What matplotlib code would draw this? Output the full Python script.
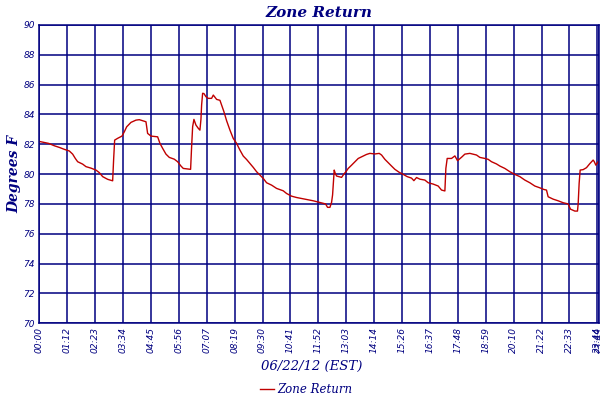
import numpy as np
import matplotlib
matplotlib.use("Agg")
import matplotlib.pyplot as plt

# minutes after midnight, degrees F
minutes = [0, 23.9, 38.4, 51.1, 63.9, 76.6, 85.1, 91.9, 97.9, 110.6, 119.1, 131.9,
           144.6, 153.1, 161.7, 174.4, 187.2, 189.7, 192.3, 200, 211, 217, 222.9,
           234, 246.7, 255.2, 272.2, 276.4, 285, 302, 307.9, 314.7, 323.2, 331.7,
           344.5, 353, 361.5, 367.4, 386.1, 388.7, 391.3, 394.6, 399.7, 405.7,
           409.9, 412.5, 414.2, 416.8, 420.2, 425.3, 431.2, 439.7, 444, 452.5,
           461, 465.2, 471.2, 478, 486.5, 495, 503.5, 512, 520.5, 529, 537.5,
           546, 554.5, 563, 571.5, 580, 592.8, 605.5, 622.5, 631, 643.8, 656.6,
           677.8, 699, 720.3, 730.5, 735.6, 741.6, 745.8, 748.4, 752.6, 755.2,
           758.6, 771.4, 777.3, 782.4, 788.3, 796.9, 805.4, 813.9, 826.6, 835.1,
           843.6, 856.4, 867.4, 873.4, 881.9, 890.4, 898.9, 907.4, 918.4, 928.7,
           938.9, 949.9, 955.9, 962.7, 971.2, 983.9, 992.4, 1005.2, 1017.9,
           1026.4, 1035, 1037.5, 1040.9, 1051.9, 1060.5, 1067.3, 1077.5, 1086,
           1098.7, 1115.7, 1124.2, 1137, 1145.5, 1154, 1166.8, 1175.3, 1188,
           1200.8, 1213.5, 1226.3, 1239, 1251.8, 1264.5, 1277.3, 1287.5, 1294.3,
           1298.5, 1311.3, 1324, 1336.8, 1349.6, 1355.5, 1366.6, 1373.4, 1375.1,
           1377.6, 1380.2, 1387.8, 1396.3, 1404.8, 1413.3, 1415.9, 1420.2, 1426.1,
           1429]
temps = [82.19, 82.06, 81.9, 81.79, 81.66, 81.55, 81.34, 81.05, 80.83, 80.67, 80.5,
         80.4, 80.27, 80.1, 79.83, 79.65, 79.55, 81.0, 82.28, 82.4, 82.55, 82.84,
         83.17, 83.47, 83.62, 83.65, 83.51, 82.73, 82.55, 82.5, 82.06, 81.73,
         81.34, 81.12, 81.0, 80.83, 80.54, 80.38, 80.32, 81.84, 83.18, 83.67,
         83.29, 83.07, 82.95, 83.67, 84.63, 85.42, 85.4, 85.19, 85.08, 85.08,
         85.3, 85.01, 84.95, 84.63, 84.18, 83.58, 82.95, 82.39, 82.06, 81.61,
         81.21, 80.98, 80.72, 80.45, 80.16, 79.93, 79.71, 79.42, 79.26, 79.04,
         78.88, 78.7, 78.52, 78.43, 78.32, 78.21, 78.07, 78.0, 77.77, 77.77,
         78.1, 78.6, 80.27, 80.05, 79.87, 79.78, 80.0, 80.16, 80.38, 80.6, 80.83,
         81.05, 81.21, 81.32, 81.39, 81.35, 81.39, 81.28, 80.99, 80.76, 80.54,
         80.32, 80.12, 79.98, 79.83, 79.73, 79.56, 79.77, 79.66, 79.6, 79.42,
         79.33, 79.2, 78.93, 78.87, 80.38, 81.05, 81.05, 81.22, 80.9, 81.13,
         81.34, 81.39, 81.28, 81.12, 81.05, 80.99, 80.83, 80.68, 80.54, 80.38,
         80.16, 79.98, 79.83, 79.6, 79.42, 79.2, 79.08, 78.97, 78.93, 78.48,
         78.32, 78.21, 78.08, 78.0, 77.65, 77.52, 77.52, 78.0, 79.38, 80.27,
         80.3, 80.43, 80.7, 80.94, 80.85, 80.6, 80.83, 80.83]

tick_labels = ["00:00", "01:12", "02:23", "03:34", "04:45", "05:56", "07:07",
               "08:19", "09:30", "10:41", "11:52", "13:03", "14:14", "15:26",
               "16:37", "17:48", "18:59", "20:10", "21:22", "22:33", "23:44", "23:49"]
tick_pos = [71.2 * i for i in range(21)] + [1429]
y_ticks = list(range(70, 91, 2))

navy = "#000080"
serif = "DejaVu Serif"

fig = plt.figure(figsize=(6, 4), dpi=100)
ax = fig.add_axes([0.0655, 0.192, 0.9333, 0.7455])

ax.plot(minutes, temps, color="#c00000", lw=1.0, label="Zone Return")

ax.set_xlim(0, 1429)
ax.set_ylim(70, 90)
ax.set_xticks(tick_pos)
ax.set_xticklabels(tick_labels, rotation=90, fontsize=6.5, style="italic", color=navy)
ax.set_yticks(y_ticks)
ax.set_yticklabels([str(v) for v in y_ticks], fontsize=6.5, style="italic", color=navy)
ax.tick_params(length=0, pad=3)
ax.grid(True, color=navy, lw=1.1)
ax.set_axisbelow(True)
for s in ax.spines.values():
    s.set_color(navy)
    s.set_linewidth(1.1)

ax.set_title("Zone Return", fontsize=11, fontstyle="italic", fontweight="bold",
             family=serif, color=navy, pad=6)
ax.set_ylabel("Degrees F", fontsize=10, fontstyle="italic", fontweight="bold",
              family=serif, color=navy, labelpad=2)
fig.text(0.52, 0.085, "06/22/12 (EST)", ha="center", va="center", fontsize=9.5,
         style="italic", family=serif, color=navy)

leg = fig.legend(loc="center", bbox_to_anchor=(0.51, 0.027), frameon=False,
                 handlelength=1.2, handletextpad=0.3,
                 prop={"family": serif, "style": "italic", "size": 8.5})
for t in leg.get_texts():
    t.set_color(navy)

fig.savefig("out.png", dpi=100)
